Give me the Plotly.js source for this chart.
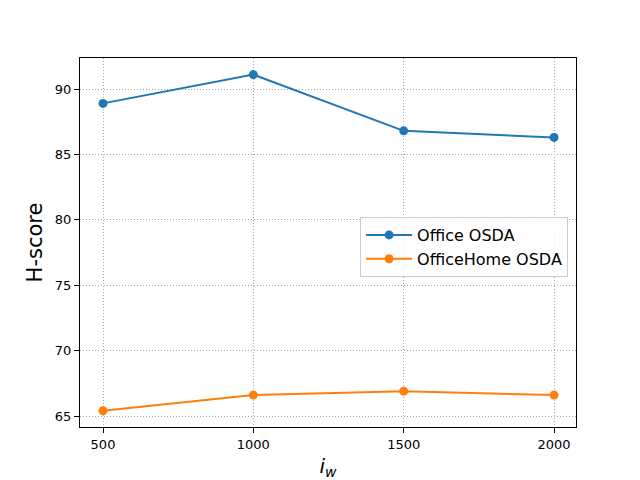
<!DOCTYPE html>
<html>
<head>
<meta charset="utf-8">
<script src="https://cdn.plot.ly/plotly-3.0.1.min.js"></script>
<style>html,body{margin:0;padding:0;background:#fff;}#chart{width:640px;height:480px;}</style>
</head>
<body>
<div id="chart"></div>
<script>
const iw = [500, 1000, 1500, 2000];
const officeOSDA = [88.9, 91.1, 86.8, 86.3];
const officeHomeOSDA = [65.4, 66.6, 66.9, 66.6];
const seriesNames = ["Office OSDA", "OfficeHome OSDA"];
const xTicks = [500, 1000, 1500, 2000];
const yTicks = [65, 70, 75, 80, 85, 90];

const font = "DejaVu Sans, sans-serif";
const traces = [
  {x: iw, y: officeOSDA, name: seriesNames[0], mode: "lines+markers",
   line: {color: "#1f77b4", width: 2}, marker: {color: "#1f77b4", size: 9}},
  {x: iw, y: officeHomeOSDA, name: seriesNames[1], mode: "lines+markers",
   line: {color: "#ff7f0e", width: 2}, marker: {color: "#ff7f0e", size: 9}}
];
const axisCommon = {
  showline: true, mirror: true, linecolor: "#000", linewidth: 1,
  ticks: "outside", ticklen: 5, tickcolor: "#000", tickwidth: 1,
  showgrid: true, gridcolor: "#a8a8a8", griddash: "1px,2px", gridwidth: 1,
  zeroline: false, tickfont: {family: font, size: 13, color: "#000"}
};
const layout = {
  width: 640, height: 480,
  margin: {l: 80, r: 64, t: 58, b: 53},
  paper_bgcolor: "#fff", plot_bgcolor: "#fff",
  font: {family: font, color: "#000"},
  xaxis: Object.assign({}, axisCommon, {
    range: [423.5, 2073], tickvals: xTicks, ticktext: xTicks.map(String),
    title: {text: "<i>i</i><sub><i>w</i></sub>", font: {family: font, size: 20}, standoff: 8}
  }),
  yaxis: Object.assign({}, axisCommon, {
    range: [64.16, 92.37], tickvals: yTicks, ticktext: yTicks.map(String),
    title: {text: "H-score", font: {family: font, size: 21}, standoff: 6}
  }),
  showlegend: true,
  legend: {x: 0.984, y: 0.569, xanchor: "right", yanchor: "top",
    itemwidth: 46, tracegroupgap: 0,
    bgcolor: "rgba(255,255,255,0.8)", bordercolor: "#cccccc", borderwidth: 1,
    font: {family: font, size: 16, color: "#000"}}
};
Plotly.newPlot("chart", traces, layout, {staticPlot: true, displayModeBar: false});
</script>
</body>
</html>
